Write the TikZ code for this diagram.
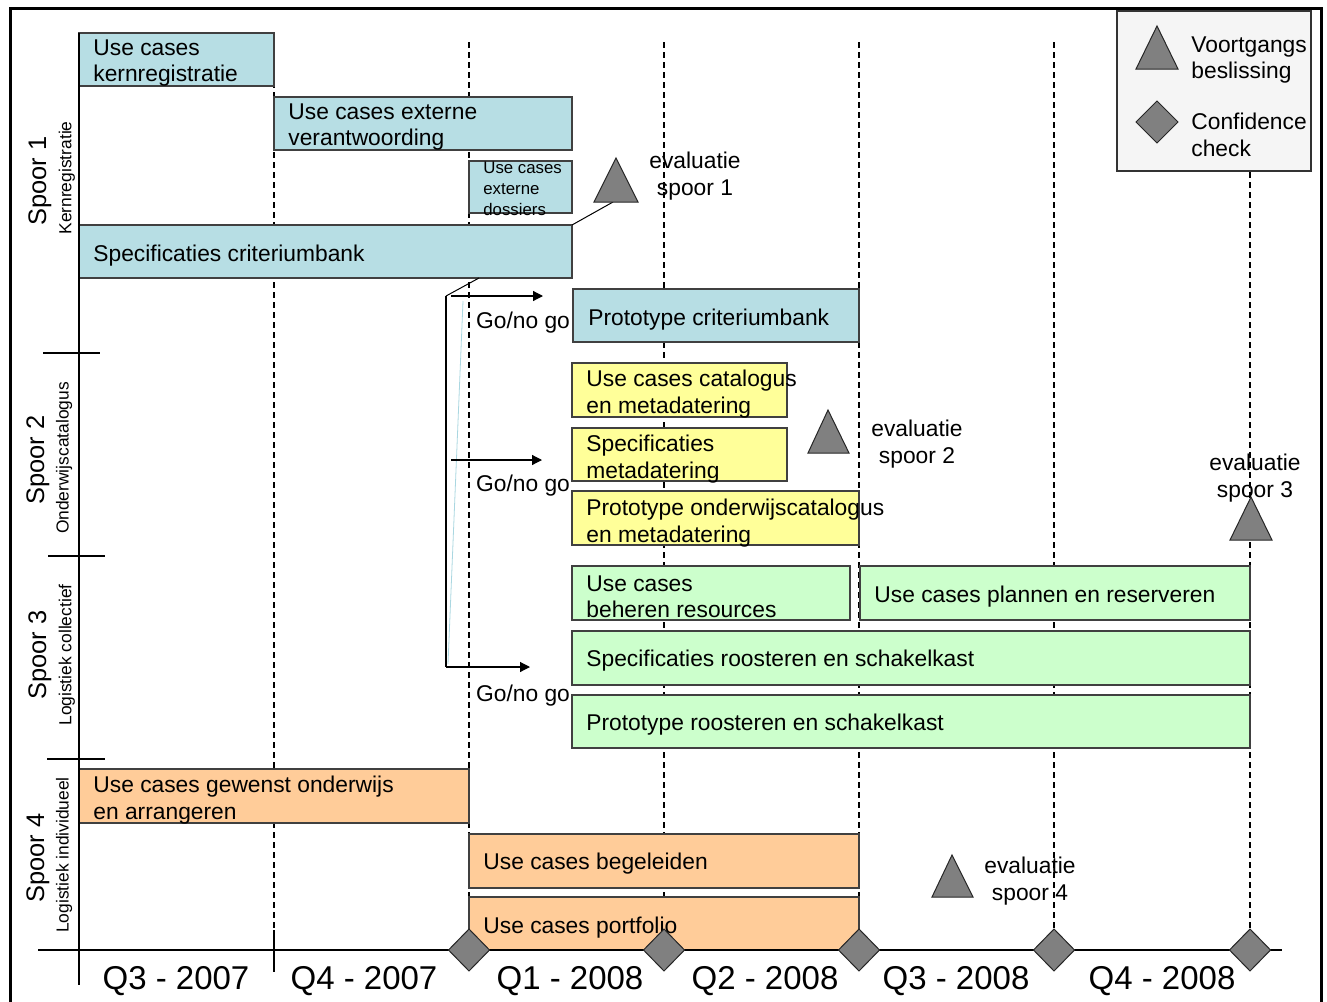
\documentclass[tikz,border=0pt]{standalone}
\usepackage{fontspec}
\setmainfont{Liberation Sans}
\usetikzlibrary{arrows.meta}
\definecolor{kernblauw}{RGB}{183,222,228}
\definecolor{catgeel}{RGB}{255,255,153}
\definecolor{colgroen}{RGB}{204,255,204}
\definecolor{indoranje}{RGB}{255,204,153}
\definecolor{mijlgrijs}{RGB}{128,128,128}
\definecolor{legendagrijs}{RGB}{245,245,245}
\definecolor{spoorlijn}{RGB}{170,215,225}

\begin{document}
\begin{tikzpicture}[x=0.5pt, y=-0.5pt,
  taak/.style={draw=black!75, line width=0.7pt},
  tekst/.style={anchor=west, inner sep=0pt, align=left, yshift=-1.5pt, font=\fontsize{11.4}{13.2}\selectfont},
  kleintekst/.style={anchor=west, inner sep=0pt, align=left, yshift=-0.5pt, font=\fontsize{8.4}{10.5}\selectfont},
  evaltekst/.style={inner sep=0pt, align=center, yshift=-1pt, font=\fontsize{11.4}{13.4}\selectfont},
  kwartaal/.style={inner sep=0pt, yshift=-1.5pt, font=\fontsize{16.5}{18}\selectfont},
  spoornaam/.style={inner sep=0pt, rotate=90, font=\fontsize{12.7}{14}\selectfont},
  spoorsub/.style={inner sep=0pt, rotate=90, font=\fontsize{8.7}{10}\selectfont},
  raster/.style={black, line width=0.6pt, dash pattern=on 3pt off 2pt},
  mijlpaal/.style={draw=black!85, fill=mijlgrijs, line width=0.5pt},
  gngpijl/.style={line width=0.6pt, -{Triangle[length=5pt,width=5pt]}}]
\useasboundingbox (0,0) rectangle (1327,1001);
\draw[line width=1.5pt] (10,8) rectangle (1321,1012);

% kwartaalgrenzen
\draw[raster] (274,42) -- (274,930);
\draw[raster] (469,42) -- (469,950);
\draw[raster] (664,42) -- (664,950);
\draw[raster] (859,42) -- (859,950);
\draw[raster] (1054,42) -- (1054,950);
\draw[raster] (1250,172) -- (1250,950);

% legenda
\draw[draw=black!80, fill=legendagrijs, line width=0.6pt] (1117,11) rectangle (1311,171);
\draw[mijlpaal] (1157,26) -- (1178,69) -- (1136,69) -- cycle;
\draw[mijlpaal] (1136,122) -- (1157,101) -- (1178,122) -- (1157,143) -- cycle;
\node[tekst] (legVoort) at (1191,57) {Voortgangs\\beslissing};
\node[tekst] (legConf) at (1191,132) {Confidence\\check};

% spoor 1
\draw[taak, fill=kernblauw] (79,33) rectangle (274,86);
\node[tekst] (ucKern) at (93,60) {Use cases\\kernregistratie};
\draw[taak, fill=kernblauw] (274,97) rectangle (572,150);
\node[tekst] (ucVerant) at (288,124) {Use cases externe\\verantwoording};
\draw[taak, fill=kernblauw] (469,161) rectangle (572,213);
\node[kleintekst] (ucDossier) at (483,188) {Use cases\\externe\\dossiers};
\draw[taak, fill=kernblauw] (79,225) rectangle (572,278);
\node[tekst] (specCrit) at (93,253) {Specificaties criteriumbank};
\draw[taak, fill=kernblauw] (573,289) rectangle (859,342);
\node[tekst] (protoCrit) at (588,317) {Prototype criteriumbank};

% spoor 2
\draw[taak, fill=catgeel] (572,363) rectangle (787,417);
\node[tekst] (ucCat) at (586,391) {Use cases catalogus\\en metadatering};
\draw[taak, fill=catgeel] (572,428) rectangle (787,481);
\node[tekst] (specMeta) at (586,456) {Specificaties\\metadatering};
\draw[taak, fill=catgeel] (572,491) rectangle (859,545);
\node[tekst] (protoCat) at (586,520) {Prototype onderwijscatalogus\\en metadatering};

% spoor 3
\draw[taak, fill=colgroen] (572,566) rectangle (850,620);
\node[tekst] (ucBeheer) at (586,594) {Use cases\\beheren resources};
\draw[taak, fill=colgroen] (860,566) rectangle (1250,620);
\node[tekst] (ucPlan) at (874,594) {Use cases plannen en reserveren};
\draw[taak, fill=colgroen] (572,631) rectangle (1250,685);
\node[tekst] (specRooster) at (586,658) {Specificaties roosteren en schakelkast};
\draw[taak, fill=colgroen] (572,695) rectangle (1250,748);
\node[tekst] (protoRooster) at (586,722) {Prototype roosteren en schakelkast};

% spoor 4
\draw[taak, fill=indoranje] (79,769) rectangle (469,823);
\node[tekst] (ucGewenst) at (93,797) {Use cases gewenst onderwijs\\en arrangeren};
\draw[taak, fill=indoranje] (469,834) rectangle (859,888);
\node[tekst] (ucBegel) at (483,861) {Use cases begeleiden};
\draw[taak, fill=indoranje] (469,897) rectangle (859,950);
\node[tekst] (ucPortf) at (483,925) {Use cases portfolio};

% assen
\draw[line width=1pt] (79,33) -- (79,985);
\draw[line width=1pt] (38,950) -- (1282,950);
\draw[line width=1pt] (274,930) -- (274,972);
\draw[line width=1pt] (43,353) -- (100,353);
\draw[line width=1pt] (48,556) -- (105,556);
\draw[line width=1pt] (47,759) -- (105,759);

\node[spoornaam] (sp1) at (40,181) {Spoor 1};
\node[spoorsub] (sub1) at (67,178) {Kernregistratie};
\node[spoornaam] (sp2) at (38,460) {Spoor 2};
\node[spoorsub] (sub2) at (64,458) {Onderwijscatalogus};
\node[spoornaam] (sp3) at (40,655) {Spoor 3};
\node[spoorsub] (sub3) at (67,655) {Logistiek collectief};
\node[spoornaam] (sp4) at (38,858) {Spoor 4};
\node[spoorsub] (sub4) at (64,855) {Logistiek individueel};

% go/no go
\coordinate (specOnder) at (479,278);
\coordinate (gngTop) at (446,296);
\coordinate (gngBodem) at (446,667);
\draw[spoorlijn, line width=0.4pt] (463,301) -- (448,664);
\draw[line width=0.5pt] (specOnder) -- (gngTop);
\draw[line width=1.2pt] (gngTop) -- (gngBodem);
\draw[gngpijl] (gngBodem) -- (530,667);
\draw[gngpijl] (451,296) -- (543,296);
\draw[gngpijl] (451,460) -- (542,460);
\node[evaltekst] (gng1) at (523,321) {Go/no go};
\node[evaltekst] (gng2) at (523,484) {Go/no go};
\node[evaltekst] (gng3) at (523,694) {Go/no go};

% voortgangsbeslissingen
\coordinate (specHoek) at (572,225);
\coordinate (evalVoet1) at (613,202);
\draw[line width=0.5pt] (specHoek) -- (evalVoet1);
\draw[mijlpaal] (616,158) -- (638,202) -- (594,202) -- cycle;
\draw[mijlpaal] (828,410) -- (849,453) -- (808,453) -- cycle;
\draw[mijlpaal] (1251,497) -- (1272,540) -- (1230,540) -- cycle;
\draw[mijlpaal] (952,855) -- (973,897) -- (932,897) -- cycle;
\node[evaltekst] (eval1) at (695,174) {evaluatie\\spoor 1};
\node[evaltekst] (eval2) at (917,442) {evaluatie\\spoor 2};
\node[evaltekst] (eval3) at (1255,476) {evaluatie\\spoor 3};
\node[evaltekst] (eval4) at (1030,879) {evaluatie\\spoor 4};

% confidence checks
\foreach \x in {469,664,859,1054,1250}
  \draw[mijlpaal] (\x-20.5,950) -- (\x,929) -- (\x+20.5,950) -- (\x,971) -- cycle;

% kwartalen
\node[kwartaal] (q307) at (176,978) {Q3 - 2007};
\node[kwartaal] (q407) at (364,978) {Q4 - 2007};
\node[kwartaal] (q108) at (570,978) {Q1 - 2008};
\node[kwartaal] (q208) at (765,978) {Q2 - 2008};
\node[kwartaal] (q308) at (956,978) {Q3 - 2008};
\node[kwartaal] (q408) at (1162,978) {Q4 - 2008};
\end{tikzpicture}
\end{document}
